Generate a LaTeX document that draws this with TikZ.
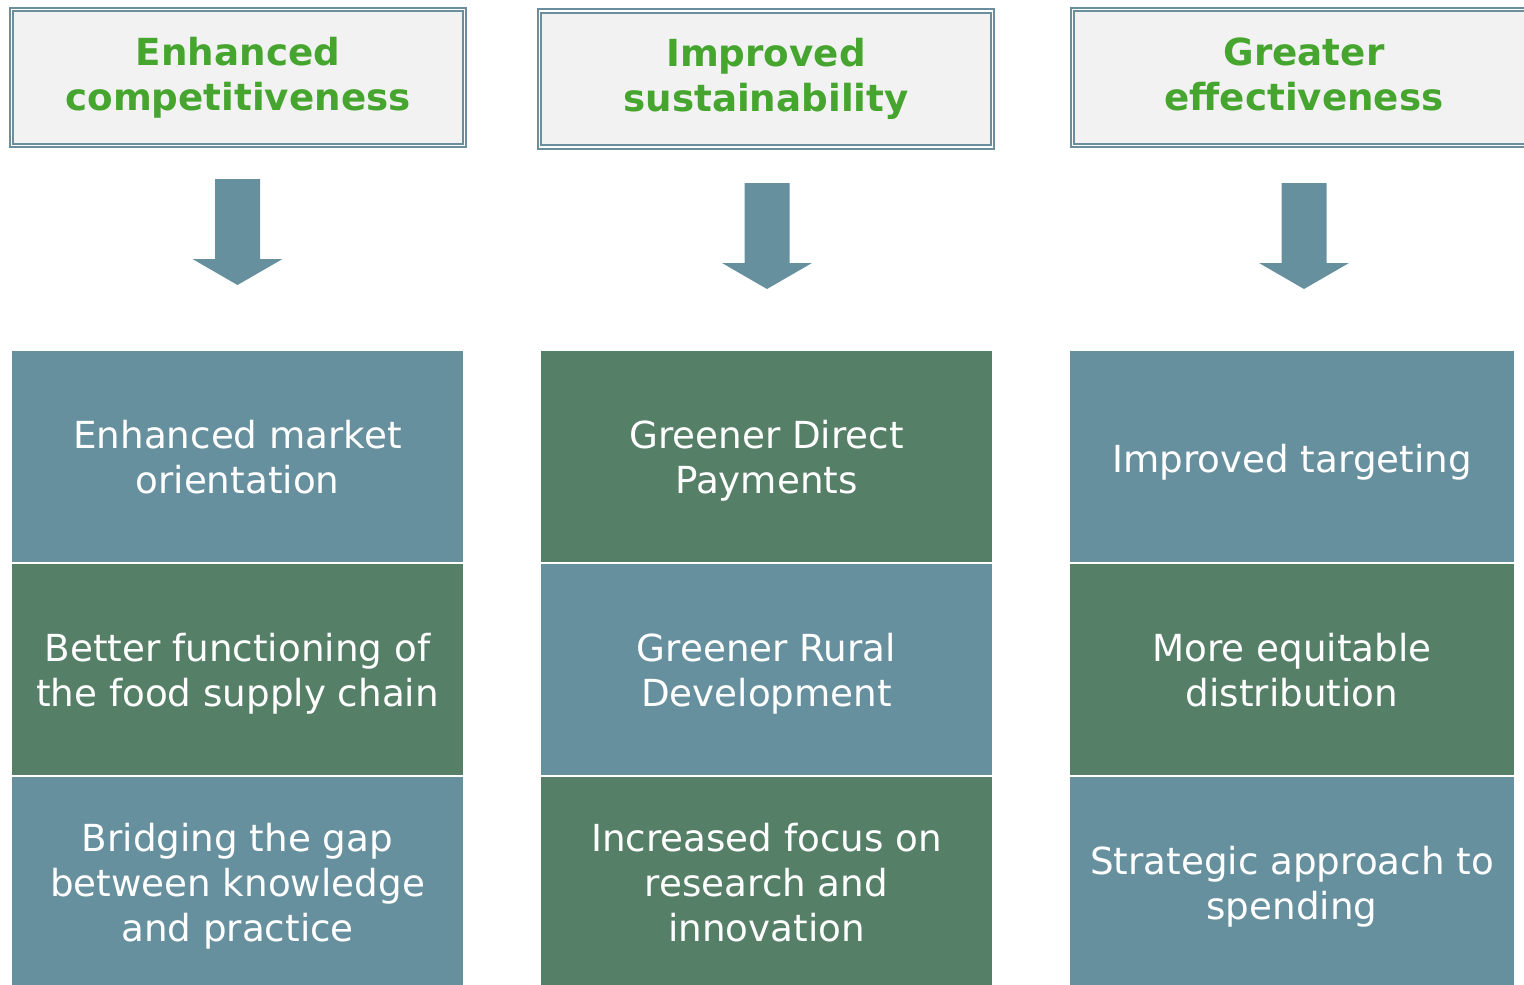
\documentclass[tikz,border=0pt]{standalone}
\usepackage{fontspec}
\setmainfont{DejaVu Sans}
\usepackage{tikz}

\definecolor{cellblue}{HTML}{67909E}
\definecolor{cellgreen}{HTML}{557F66}
\definecolor{headgreen}{HTML}{45A52E}
\definecolor{headfill}{HTML}{F2F2F2}
\definecolor{headline}{HTML}{6A8E9C}

\begin{document}
\begin{tikzpicture}[
    header/.style={rectangle, fill=headfill, draw=headline, line width=1.1pt,
        double=white, double distance=1.1pt, minimum width=9.06cm, minimum height=2.72cm,
        align=center, text=headgreen, font=\fontsize{21.2}{25.6}\selectfont\bfseries,
        execute at begin node=\strut, text depth=4.3pt},
    cell/.style={rectangle, minimum height=4.22cm, align=center, text=white,
        font=\fontsize{21.2}{25.6}\selectfont, inner sep=0pt,
        execute at begin node=\strut, text depth=-0.3pt},
    bluecell/.style={cell, fill=cellblue},
    greencell/.style={cell, fill=cellgreen},
    downarrow/.style={fill=cellblue}
]
    \useasboundingbox (0,0) rectangle (30.48,-19.68);
    % Headers
    \node (h1) at (4.76,-1.55) [header] {Enhanced\\competitiveness};
    \node (h2) at (15.32,-1.58) [header] {Improved\\sustainability};
    \node (h3) at (26.08,-1.55) [header, minimum width=9.26cm] {Greater\\effectiveness};
    % Arrows
    \coordinate (a1) at (4.75,-3.58);
    \coordinate (a2) at (15.34,-3.66);
    \coordinate (a3) at (26.08,-3.66);
    \foreach \a in {a1,a2,a3}
        \fill[downarrow] (\a) ++(-0.45,0) -- ++(0,-1.6) -- ++(-0.45,0) -- ++(0.9,-0.52)
            -- ++(0.9,0.52) -- ++(-0.45,0) -- ++(0,1.6) -- cycle;
    % First column
    \node (c11) at (4.75,-9.13) [bluecell, minimum width=9.02cm] {Enhanced market\\orientation};
    \node (c12) at (4.75,-13.39) [greencell, minimum width=9.02cm] {Better functioning of\\the food supply chain};
    \node (c13) at (4.75,-17.65) [bluecell, minimum width=9.02cm] {Bridging the gap\\between knowledge\\and practice};
    % Second column
    \node (c21) at (15.33,-9.13) [greencell, minimum width=9.02cm] {Greener Direct\\Payments};
    \node (c22) at (15.33,-13.39) [bluecell, minimum width=9.02cm] {Greener Rural\\Development};
    \node (c23) at (15.33,-17.65) [greencell, minimum width=9.02cm] {Increased focus on\\research and\\innovation};
    % Third column
    \node (c31) at (25.84,-9.13) [bluecell, minimum width=8.88cm] {Improved targeting};
    \node (c32) at (25.84,-13.39) [greencell, minimum width=8.88cm] {More equitable\\distribution};
    \node (c33) at (25.84,-17.65) [bluecell, minimum width=8.88cm] {Strategic approach to\\spending};
\end{tikzpicture}
\end{document}
